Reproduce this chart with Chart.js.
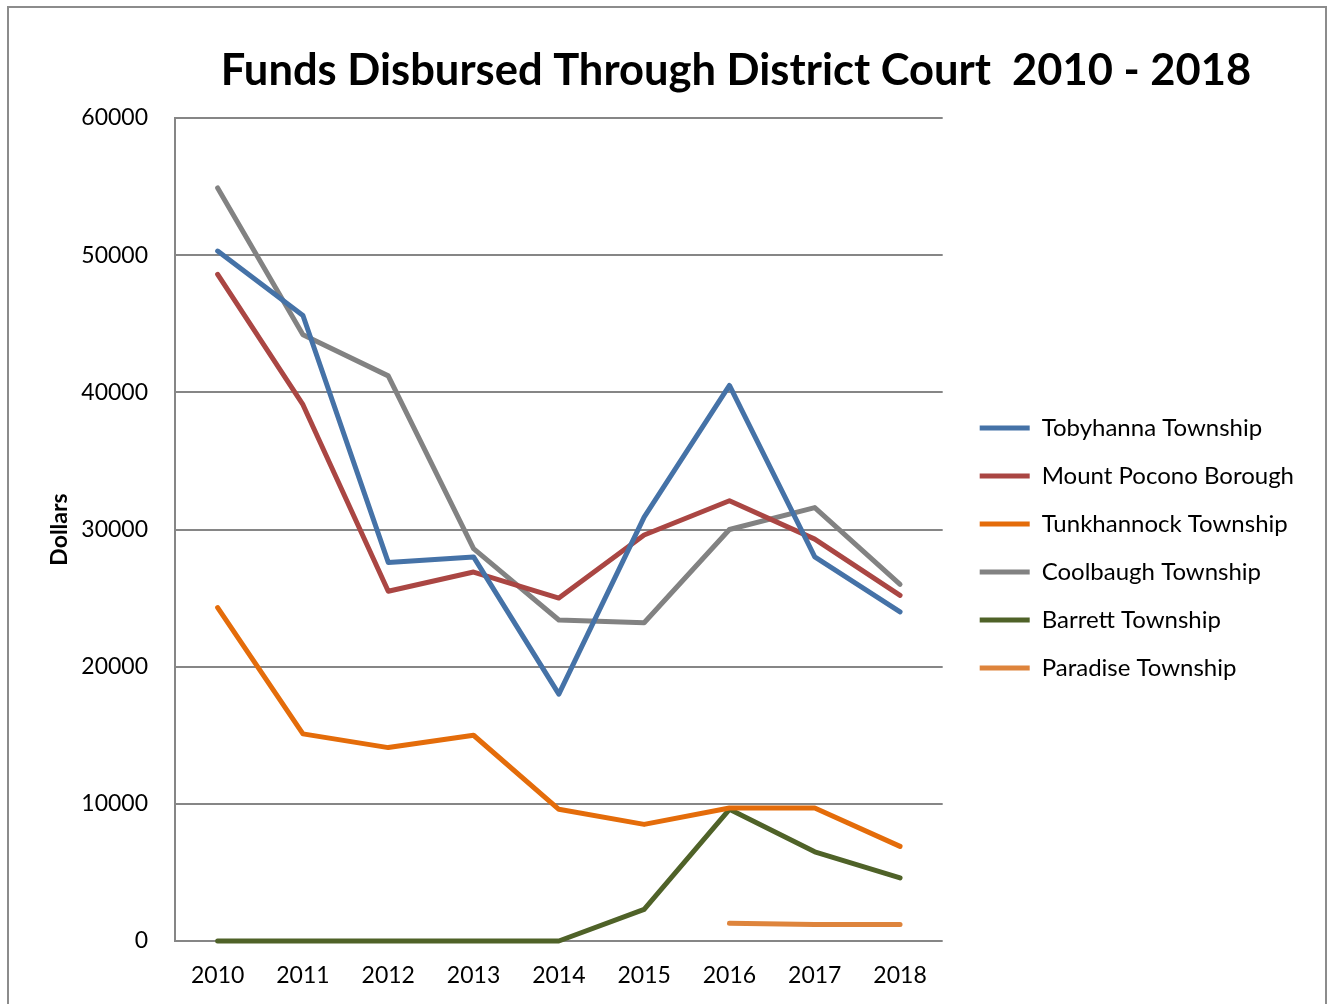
<!DOCTYPE html>
<html>
<head>
<meta charset="utf-8">
<title>Funds Disbursed Through District Court 2010 - 2018</title>
<script src="https://cdn.jsdelivr.net/npm/chart.js@4.4.0/dist/chart.umd.min.js"></script>
<style>
   html, body { margin: 0; padding: 0; background: #fff; }
   #wrap { position: relative; width: 1335px; height: 1004px; overflow: hidden; }
   #frame { position: absolute; left: 7px; top: 6px; width: 1320px; height: 1020px; border: 2px solid #8c8c8c; box-sizing: border-box; }
   canvas { position: absolute; left: 0; top: 0; }
</style>
</head>
<body>
<div id="wrap">
   <div id="frame"></div>
   <canvas id="grafico" width="1335" height="1004"></canvas>
</div>
<script>
// dati
var anni = ['2010', '2011', '2012', '2013', '2014', '2015', '2016', '2017', '2018'];
var tobyhanna = [50300, 45600, 27600, 28000, 18000, 30900, 40500, 28000, 24000];
var mountPocono = [48600, 39100, 25500, 26900, 25000, 29600, 32100, 29300, 25200];
var tunkhannock = [24300, 15100, 14100, 15000, 9600, 8500, 9700, 9700, 6900];
var coolbaugh = [54900, 44200, 41200, 28600, 23400, 23200, 30000, 31600, 26000];
var barrett = [0, 0, 0, 0, 0, 2300, 9600, 6500, 4600];
var paradise = [null, null, null, null, null, null, 1300, 1200, 1200];

var titolo = 'Funds Disbursed Through District Court  2010 - 2018';
var fontName = 'Lato, "Open Sans", sans-serif';

function serie(label, data, colore) {
   return {
      label: label,
      data: data,
      borderColor: colore,
      backgroundColor: colore,
      borderWidth: 5,
      borderCapStyle: 'round',
      borderJoinStyle: 'round',
      pointRadius: 0,
      pointHoverRadius: 0,
      tension: 0,
      fill: false,
      clip: false
   };
}

// titolo disegnato sopra il grafico
const titoloPlugin = {
   id: 'titolo',
   afterDraw(chart) {
      const ctx = chart.ctx;
      ctx.save();
      ctx.font = 'bold 43.5px ' + fontName;
      ctx.fillStyle = '#000';
      ctx.textAlign = 'center';
      ctx.textBaseline = 'alphabetic';
      ctx.fillText(titolo, 736, 85);
      ctx.restore();
   }
};

const ctx = document.getElementById('grafico').getContext('2d');
const myChart = new Chart(ctx, {
   type: 'line',
   data: {
      labels: anni,
      datasets: [
         serie('Tobyhanna Township', tobyhanna, '#4572A7'),
         serie('Mount Pocono Borough', mountPocono, '#AA4643'),
         serie('Tunkhannock Township', tunkhannock, '#E46C0A'),
         serie('Coolbaugh Township', coolbaugh, '#828282'),
         serie('Barrett Township', barrett, '#4F6228'),
         serie('Paradise Township', paradise, '#DE843C')
      ]
   },
   options: {
      responsive: false,
      animation: false,
      layout: {
         padding: { top: 118, left: 40, right: 31, bottom: 0 }
      },
      scales: {
         x: {
            offset: true,
            afterFit: function (scale) { scale.height = 63; },
            grid: { display: false, drawTicks: false },
            border: { display: false },
            ticks: {
               color: '#000',
               padding: 21,
               maxRotation: 0,
               font: { family: fontName, size: 23 }
            }
         },
         y: {
            min: 0,
            max: 60000,
            afterFit: function (scale) { scale.width = 135; },
            grid: { color: '#868686', lineWidth: 2, drawTicks: false },
            border: { display: true, color: '#868686', width: 2 },
            ticks: {
               stepSize: 10000,
               color: '#000',
               padding: 27,
               font: { family: fontName, size: 23 },
               callback: function (v) { return String(v); }
            },
            title: {
               display: true,
               text: 'Dollars',
               color: '#000',
               padding: { top: 6, bottom: 0 },
               font: { family: fontName, size: 23, weight: 'bold' }
            }
         },
         // spazio vuoto tra area del grafico e legenda
         spazio: {
            type: 'linear',
            position: 'right',
            afterFit: function (scale) { scale.width = 13; },
            grid: { display: false, drawTicks: false },
            border: { display: false },
            ticks: { display: false }
         }
      },
      plugins: {
         title: { display: false },
         tooltip: { enabled: false },
         legend: {
            position: 'right',
            fullSize: false,
            maxWidth: 360,
            title: {
               display: true,
               text: ' ',
               padding: { top: 12, bottom: 13 },
               font: { size: 10, lineHeight: 1.2 }
            },
            labels: {
               usePointStyle: true,
               pointStyle: 'line',
               pointStyleWidth: 50,
               boxHeight: 5,
               padding: 24,
               color: '#000',
               font: { family: fontName, size: 24 }
            }
         }
      }
   },
   plugins: [titoloPlugin]
});
</script>
</body>
</html>
